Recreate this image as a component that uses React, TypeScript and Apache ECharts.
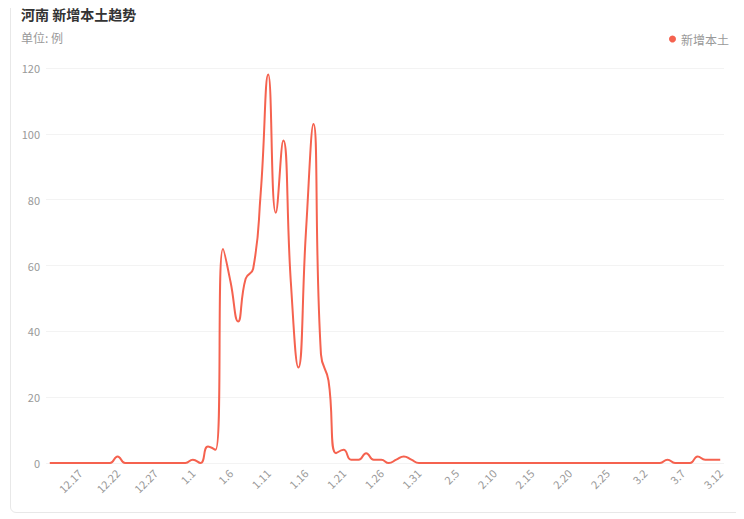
import React, { useEffect, useRef } from "react";
import * as echarts from "echarts";

const dates: string[] = [
  "12.13", "12.14", "12.15", "12.16", "12.17", "12.18", "12.19", "12.20", "12.21", "12.22",
  "12.23", "12.24", "12.25", "12.26", "12.27", "12.28", "12.29", "12.30", "12.31",
  "1.1", "1.2", "1.3", "1.4", "1.5", "1.6", "1.7", "1.8", "1.9", "1.10",
  "1.11", "1.12", "1.13", "1.14", "1.15", "1.16", "1.17", "1.18", "1.19", "1.20",
  "1.21", "1.22", "1.23", "1.24", "1.25", "1.26", "1.27", "1.28", "1.29", "1.30", "1.31",
  "2.1", "2.2", "2.3", "2.4", "2.5", "2.6", "2.7", "2.8", "2.9", "2.10",
  "2.11", "2.12", "2.13", "2.14", "2.15", "2.16", "2.17", "2.18", "2.19", "2.20",
  "2.21", "2.22", "2.23", "2.24", "2.25", "2.26", "2.27", "2.28",
  "3.1", "3.2", "3.3", "3.4", "3.5", "3.6", "3.7", "3.8", "3.9", "3.10", "3.11", "3.12",
];

const newLocal: number[] = [
  0, 0, 0, 0, 0, 0, 0, 0, 0, 2,
  0, 0, 0, 0, 0, 0, 0, 0, 0,
  1, 0, 5, 4, 65, 55, 43, 56, 59, 82,
  118, 76, 98, 55, 29, 70, 103, 33, 25, 3,
  4, 1, 1, 3, 1, 1, 0, 1, 2, 1, 0,
  0, 0, 0, 0, 0, 0, 0, 0, 0, 0,
  0, 0, 0, 0, 0, 0, 0, 0, 0, 0,
  0, 0, 0, 0, 0, 0, 0, 0,
  0, 0, 0, 0, 1, 0, 0, 0, 2, 1, 1, 1,
];

const titleText = "河南 新增本土趋势";
const unitText = "单位: 例";
const seriesName = "新增本土";

export default function App() {
  const ref = useRef<HTMLDivElement>(null);
  useEffect(() => {
    if (!ref.current) return;
    const chart = echarts.init(ref.current, null, { renderer: "svg" });
    const n = dates.length;
    chart.setOption({
      animation: false,
      textStyle: { fontFamily: "'Noto Sans CJK SC', 'Noto Sans', sans-serif" },
      title: {
        text: titleText,
        subtext: unitText,
        left: 16,
        top: 2,
        itemGap: 11,
        textStyle: { fontSize: 14, fontWeight: "bold", color: "#333" },
        subtextStyle: { fontSize: 12, color: "#999" },
      },
      legend: {
        right: 10,
        top: 28,
        icon: "circle",
        itemWidth: 7,
        itemHeight: 7,
        itemGap: 4,
        textStyle: { color: "#999", fontSize: 12 },
        data: [seriesName],
      },
      grid: { left: 46, right: 20, top: 68, bottom: 56 },
      xAxis: {
        type: "category",
        data: dates,
        boundaryGap: true,
        axisLine: { show: false },
        axisTick: { show: false },
        axisLabel: {
          rotate: 45,
          color: "#999",
          fontSize: 11,
          margin: 8,
          interval: (index: number) => (n - 1 - index) % 5 === 0,
        },
      },
      yAxis: {
        type: "value",
        min: 0,
        max: 120,
        interval: 20,
        axisLine: { show: false },
        axisTick: { show: false },
        axisLabel: { color: "#999", fontSize: 11, margin: 6 },
        splitLine: { lineStyle: { color: "#f3f3f3" } },
      },
      series: [
        {
          name: seriesName,
          type: "line",
          data: newLocal,
          smooth: true,
          showSymbol: false,
          symbol: "circle",
          itemStyle: { color: "#f5624f" },
          lineStyle: { color: "#f5624f", width: 2 },
        },
      ],
    });
    return () => chart.dispose();
  }, []);
  return (
    <div style={{ position: "relative", width: 744, height: 519 }}>
      <div
        style={{
          position: "absolute",
          left: 2,
          top: -20,
          width: 733,
          height: 525,
          border: "1px solid #e8e8e8",
          borderRadius: 6,
          boxSizing: "border-box",
        }}
      />
      <div
        ref={ref}
        style={{ position: "absolute", left: -8, top: -8, width: 744, height: 519 }}
      />
    </div>
  );
}
